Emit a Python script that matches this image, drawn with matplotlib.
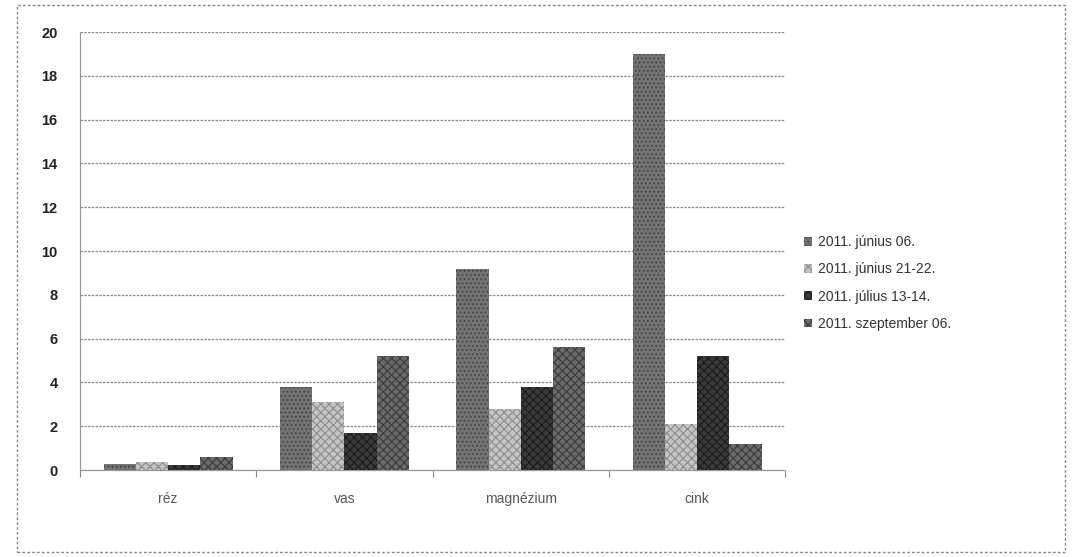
import numpy as np
import matplotlib
matplotlib.use("Agg")
import matplotlib.pyplot as plt
from matplotlib.patches import Rectangle

plt.rcParams['hatch.linewidth'] = 0.8

categories = ["réz", "vas", "magnézium", "cink"]
series_labels = ["2011. június 06.", "2011. június 21-22.",
                 "2011. július 13-14.", "2011. szeptember 06."]
jun06 = [0.3, 3.8, 9.2, 19.0]
jun21 = [0.35, 3.1, 2.8, 2.1]
jul13 = [0.25, 1.7, 3.8, 5.2]
sep06 = [0.6, 5.2, 5.6, 1.2]
series = [jun06, jun21, jul13, sep06]
yticks = [0, 2, 4, 6, 8, 10, 12, 14, 16, 18, 20]

faces = ["#727272", "#c4c4c4", "#3a3a3a", "#6a6a6a"]
edges = ["#444444", "#8c8c8c", "#1c1c1c", "#3a3a3a"]
hatches = ["....", "xxxx", "xxxx", "xxxx"]

fig = plt.figure(figsize=(10.72, 5.57), dpi=100)
ax = fig.add_axes([0.0746, 0.156, 0.658, 0.7865])

x = np.arange(len(categories))
w = 0.183
for i, vals in enumerate(series):
    ax.bar(x + (i - 1.5) * w, vals, w, color=faces[i], edgecolor=edges[i],
           hatch=hatches[i], linewidth=0, label=series_labels[i], zorder=3)

ax.set_xlim(-0.5, len(categories) - 0.5)
ax.set_ylim(0, 20)
ax.set_yticks(yticks)
ax.set_yticklabels([str(t) for t in yticks], fontsize=10.5,
                   family="Liberation Sans", color="#222222", fontweight="bold")
ax.set_xticks(x)
ax.set_xticklabels(categories, fontsize=10, family="Liberation Sans", color="#555555")
ax.tick_params(axis="y", length=0, pad=16)
ax.tick_params(axis="x", length=0, pad=16)
ax.set_xticks(np.arange(-0.5, len(categories)), minor=True)
ax.tick_params(axis="x", which="minor", length=5, color="#888888", width=0.8)

ax.yaxis.grid(True, color="#8a8a8a", linestyle=(0, (2, 1)), linewidth=0.9, zorder=0)
ax.set_axisbelow(True)
for s in ["top", "right"]:
    ax.spines[s].set_visible(False)
for s in ["left", "bottom"]:
    ax.spines[s].set_color("#999999")
    ax.spines[s].set_linestyle((0, (2, 1)))
    ax.spines[s].set_linewidth(0.9)

leg = fig.legend(loc="upper left", bbox_to_anchor=(0.738, 0.6), frameon=False,
                 handlelength=0.6, handleheight=0.6, handletextpad=0.4,
                 labelspacing=0.95, prop={"family": "Liberation Sans", "size": 10})
for t in leg.get_texts():
    t.set_color("#333333")

# dotted frame around the whole chart
fig.patches.append(Rectangle((17 / 1072, 1 - 552 / 557), (1065 - 17) / 1072,
                             (552 - 5) / 557, transform=fig.transFigure,
                             fill=False, edgecolor="#888888", linewidth=1.0,
                             linestyle=(0, (2, 1.5))))

fig.savefig("out.png", dpi=100)
